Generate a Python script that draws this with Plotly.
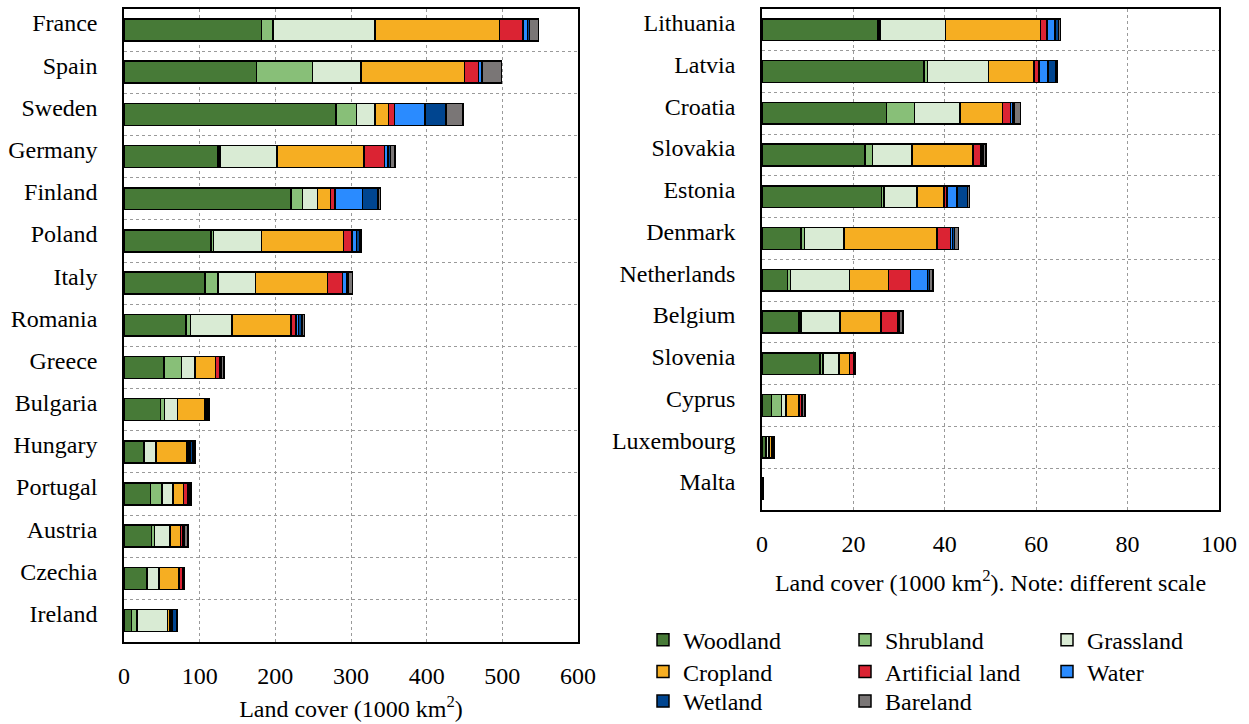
import plotly.graph_objects as go

# Land-cover classes and their fill colours
classes = ["Woodland", "Shrubland", "Grassland", "Cropland",
           "Artificial land", "Water", "Wetland", "Bareland"]
colors = ["#477A37", "#88BF78", "#D9EBD4", "#F6AE22",
          "#DB2333", "#2A8BFF", "#004590", "#7A7676"]

# Larger countries (1000 km2)
countries_l = ["France", "Spain", "Sweden", "Germany", "Finland", "Poland", "Italy",
               "Romania", "Greece", "Bulgaria", "Hungary", "Portugal", "Austria",
               "Czechia", "Ireland"]
woodland_l = [182, 175, 280, 124, 221, 115, 107, 82, 53, 48.5, 25.5, 35, 36.5, 30, 10]
shrub_l = [15, 74, 27, 3, 15, 3, 17, 6, 23, 5, 1, 15, 3.5, 0.5, 7]
grass_l = [135, 64, 25, 75, 20, 64, 50, 55, 18, 17, 16, 14.5, 21, 16, 40.5]
crop_l = [164, 137, 17.5, 115, 17, 108, 95, 77.5, 27, 36, 40.5, 14, 13.5, 26.5, 3.5]
artif_l = [31, 18.5, 8, 27, 6, 11, 20, 6.5, 5, 2, 3, 6, 2.5, 4, 1]
water_l = [6, 4.5, 40, 5, 36, 6, 5, 3.5, 1.5, 1, 2, 1.5, 1.5, 1, 1.5]
wet_l = [3, 1, 28, 3, 21, 4, 2, 4.5, 0.5, 1, 3, 1, 1, 0.5, 6]
bare_l = [12, 25, 22.5, 6, 3, 2, 6, 3.5, 4, 1.5, 3, 2.5, 5, 0.5, 0.5]

# Smaller countries (1000 km2)
countries_r = ["Lithuania", "Latvia", "Croatia", "Slovakia", "Estonia", "Denmark",
               "Netherlands", "Belgium", "Slovenia", "Cyprus", "Luxembourg", "Malta"]
woodland_r = [25.4, 35.4, 27.2, 22.5, 26.2, 8.5, 5.6, 8.1, 12.7, 2.1, 0.9, 0.01]
shrub_r = [0.4, 0.8, 6.2, 1.7, 0.5, 0.8, 0.6, 0.4, 0.6, 2.2, 0.05, 0.07]
grass_r = [14.4, 13.4, 9.9, 8.6, 7.2, 8.6, 13.0, 8.6, 3.6, 0.9, 0.6, 0.03]
crop_r = [20.7, 9.9, 9.3, 13.4, 5.9, 20.4, 8.5, 8.9, 2.3, 2.9, 0.6, 0.1]
artif_r = [1.5, 1.1, 1.8, 1.7, 0.7, 2.9, 4.8, 3.7, 0.8, 0.5, 0.25, 0.09]
water_r = [1.7, 2.0, 0.5, 0.3, 2.2, 0.5, 3.7, 0.2, 0.1, 0.05, 0.03, 0.005]
wet_r = [0.8, 1.7, 0.2, 0.2, 2.3, 0.4, 0.5, 0.2, 0.05, 0.05, 0.02, 0.005]
bare_r = [0.4, 0.3, 1.5, 0.6, 0.4, 0.9, 0.7, 0.7, 0.2, 0.7, 0.15, 0.02]

left_series = [woodland_l, shrub_l, grass_l, crop_l, artif_l, water_l, wet_l, bare_l]
right_series = [woodland_r, shrub_r, grass_r, crop_r, artif_r, water_r, wet_r, bare_r]

# legend rows: three classes per row
legend_of = ["legend", "legend", "legend", "legend2", "legend2", "legend2",
             "legend3", "legend3"]

FONT = "'Liberation Serif', 'Times New Roman', 'DejaVu Serif', serif"
W, H = 1249, 724

fig = go.Figure()
for i, name in enumerate(classes):
    fig.add_trace(go.Bar(
        x=left_series[i], y=countries_l, orientation="h", name=name,
        marker=dict(color=colors[i], line=dict(color="black", width=1.5)),
        xaxis="x", yaxis="y", legend=legend_of[i], showlegend=True,
    ))
    fig.add_trace(go.Bar(
        x=right_series[i], y=countries_r, orientation="h", name=name,
        marker=dict(color=colors[i], line=dict(color="black", width=1.5)),
        xaxis="x2", yaxis="y2", showlegend=False,
    ))

grid = dict(showgrid=True, gridcolor="#9a9a9a", griddash="dot", gridwidth=1,
            showline=True, linecolor="black", linewidth=1.5, mirror=True,
            zeroline=False, automargin=False, ticks="",
            tickfont=dict(family=FONT, size=24, color="black"))

def px_x(p):
    return p / W

def px_y(p):
    return 1 - p / H

fig.update_layout(
    width=W, height=H,
    margin=dict(l=0, r=0, t=0, b=0),
    paper_bgcolor="white", plot_bgcolor="white",
    barmode="stack", bargap=0.48,
    font=dict(family=FONT, size=24, color="black"),
    xaxis=dict(grid, domain=[px_x(124), px_x(578)], range=[0, 600], dtick=100,
               anchor="y", ticklabelstandoff=12,
               title=dict(text="Land cover (1000 km<sup>2</sup>)", standoff=12,
                          font=dict(family=FONT, size=24))),
    yaxis=dict(grid, domain=[px_y(647), px_y(9)], type="category",
               autorange="reversed", tickson="boundaries", anchor="x",
               ticklabelstandoff=20, ticklabelshift=7),
    xaxis2=dict(grid, domain=[px_x(762), px_x(1219)], range=[0, 100], dtick=20,
                anchor="y2", ticklabelstandoff=12,
                title=dict(text="Land cover (1000 km<sup>2</sup>). Note: different scale",
                           standoff=18, font=dict(family=FONT, size=24))),
    yaxis2=dict(grid, domain=[px_y(514), px_y(9)], type="category",
                autorange="reversed", tickson="boundaries", anchor="x2",
                ticklabelstandoff=20, ticklabelshift=7),
)

# each legend row must stay fully inside the page so it does not push the margins
leg_common = dict(orientation="h", xanchor="left", yanchor="middle",
                  entrywidth=157, entrywidthmode="pixels",
                  font=dict(family=FONT, size=24, color="black"),
                  bgcolor="rgba(0,0,0,0)", itemwidth=30, traceorder="normal")
fig.update_layout(
    legend=dict(leg_common, x=px_x(643), y=px_y(645.5)),
    legend2=dict(leg_common, x=px_x(643), y=px_y(677.5)),
    legend3=dict(leg_common, x=px_x(643), y=px_y(707.5)),
)

fig.write_html("out.html")
